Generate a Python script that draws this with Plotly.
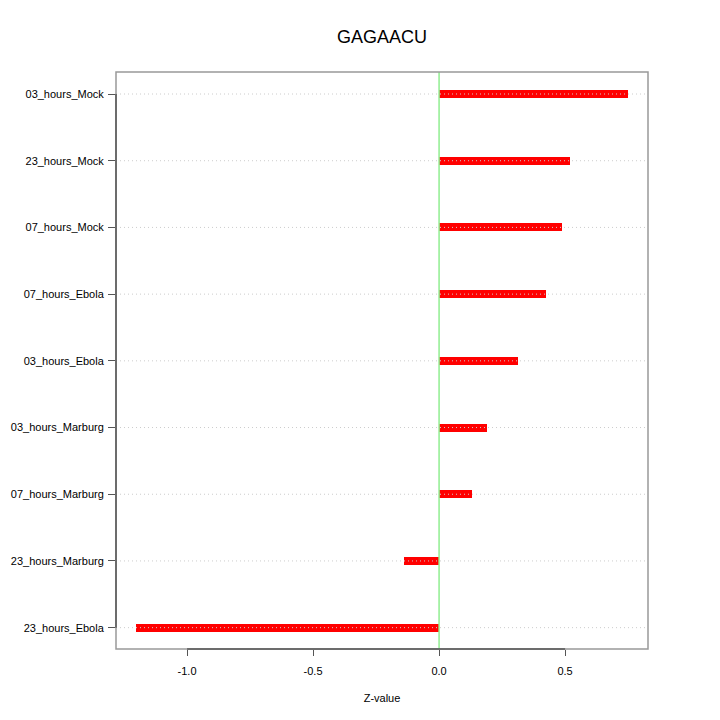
import plotly.graph_objects as go

categories = ["03_hours_Mock", "23_hours_Mock", "07_hours_Mock", "07_hours_Ebola",
              "03_hours_Ebola", "03_hours_Marburg", "07_hours_Marburg",
              "23_hours_Marburg", "23_hours_Ebola"]
values = [0.750, 0.521, 0.488, 0.425, 0.313, 0.190, 0.131, -0.139, -1.202]
x_ticks = [-1.0, -0.5, 0.0, 0.5]
x_tick_labels = ["-1.0", "-0.5", "0.0", "0.5"]

fig = go.Figure()
fig.add_trace(go.Bar(
    x=values, y=categories, orientation="h", width=0.12,
    marker=dict(color="#ff0000", line=dict(width=0)),
    showlegend=False,
))

shapes = []
for c in categories:
    shapes.append(dict(type="line", xref="paper", x0=0, x1=1, yref="y", y0=c, y1=c,
                       line=dict(color="#cccccc", width=1, dash="1px,3px"), layer="above"))
shapes.append(dict(type="line", xref="x", x0=0, x1=0, yref="paper", y0=0, y1=1,
                   line=dict(color="#90ee90", width=1.5), layer="above"))
shapes.append(dict(type="rect", xref="paper", yref="paper", x0=0, x1=1, y0=0, y1=1,
                   line=dict(color="#999999", width=1.5), layer="above"))
# axis segments (darker) spanning the tick range
shapes.append(dict(type="line", xref="x", x0=x_ticks[0], x1=x_ticks[-1], yref="paper", y0=0, y1=0,
                   line=dict(color="#555555", width=1.5), layer="above"))
shapes.append(dict(type="line", xref="paper", x0=0, x1=0, yref="y", y0=categories[0], y1=categories[-1],
                   line=dict(color="#555555", width=1.5), layer="above"))

# page body has an 8px margin; margins below compensate for it
fig.update_layout(
    template="none",
    width=720, height=720,
    margin=dict(l=108, r=80, t=64, b=79, pad=0),
    paper_bgcolor="white", plot_bgcolor="white",
    font=dict(family="Liberation Sans, Arial, sans-serif", size=11, color="black"),
    title=dict(text="GAGAACU", x=0.5, xanchor="center", xref="paper",
               y=1 - 29 / 720, yanchor="middle", yref="container",
               font=dict(size=18, color="black")),
    shapes=shapes,
    bargap=0,
)
fig.update_xaxes(
    range=[-1.282, 0.829], tickvals=x_ticks, ticktext=x_tick_labels,
    showgrid=False, zeroline=False, ticks="outside", ticklen=6, tickwidth=1,
    tickcolor="#555555", showline=False, automargin=False, ticklabelstandoff=6,
    title=dict(text="Z-value", font=dict(size=11), standoff=18),
)
fig.update_yaxes(
    categoryorder="array", categoryarray=categories[::-1],
    range=[-0.32, 8.33],
    showgrid=False, zeroline=False, ticks="outside", ticklen=7, tickwidth=1,
    tickcolor="#555555", showline=False, automargin=False, ticklabelstandoff=2,
)

fig.write_html("out.html")
